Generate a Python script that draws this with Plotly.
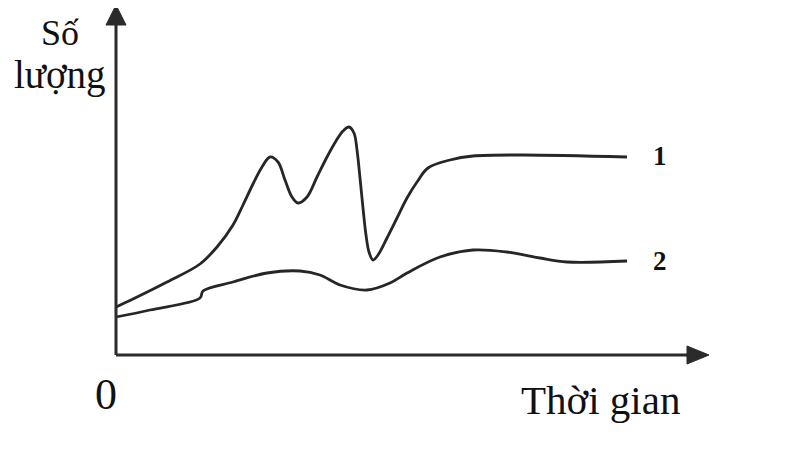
import plotly.graph_objects as go

# Curve 1 (time, quantity)
t1 = [0, 17, 51, 84, 101, 117, 127, 137, 146, 154, 162, 169, 176, 182, 191, 201, 211, 220, 227, 233,
      238, 241, 244, 247, 250, 253, 257, 262, 271, 281, 291, 301, 312, 334, 357, 407, 511]
n1 = [48, 56, 73, 91, 108, 130, 150, 171, 188, 198, 193, 175, 158, 152, 158, 178, 198, 214, 224, 228,
      222, 205, 177, 147, 120, 103, 95, 100, 117, 137, 157, 173, 187, 195, 199, 200, 198]
# Curve 2 (time, quantity)
t2 = [0, 34, 84, 87, 117, 151, 184, 204, 224, 251, 274, 291, 324, 357, 391, 424, 451, 511]
n2 = [38, 45, 57, 64, 73, 82, 84, 80, 70, 65, 72, 82, 98, 105, 103, 97, 93, 94]

labels = {"1": (544, 199), "2": (544, 94)}

fig = go.Figure()
for t, n in [(t1, n1), (t2, n2)]:
    fig.add_trace(go.Scatter(x=t, y=n, mode="lines",
                             line=dict(color="#262626", width=2.8, shape="spline", smoothing=1.0),
                             hoverinfo="skip", showlegend=False))

axc = "#2b2b2b"
# axes lines
fig.add_shape(type="line", x0=0, y0=0, x1=0, y1=335, line=dict(color=axc, width=3))
fig.add_shape(type="line", x0=0, y0=0, x1=575, y1=0, line=dict(color=axc, width=3))
# arrowheads
fig.add_shape(type="path", path="M -10,330 L 10,330 L 0,350 Z", fillcolor=axc, line=dict(color=axc, width=1))
fig.add_shape(type="path", path="M 571,-9 L 571,9 L 593,0 Z", fillcolor=axc, line=dict(color=axc, width=1))

serif = "Liberation Serif"
fig.add_annotation(x=-56, y=322, text="Số", showarrow=False, xanchor="center", yanchor="middle",
                   font=dict(family=serif, size=36, color="#111"))
fig.add_annotation(x=-56, y=280, text="lượng", showarrow=False, xanchor="center", yanchor="middle",
                   font=dict(family=serif, size=39, color="#111"))
fig.add_annotation(x=-10, y=-39, text="0", showarrow=False, xanchor="center", yanchor="middle",
                   font=dict(family=serif, size=44, color="#111"))
fig.add_annotation(x=484, y=-45, text="Thời gian", showarrow=False, xanchor="center", yanchor="middle",
                   font=dict(family=serif, size=41, color="#111"))
for k, (x, y) in labels.items():
    fig.add_annotation(x=x, y=y, text="<b>%s</b>" % k, showarrow=False, xanchor="center", yanchor="middle",
                       font=dict(family=serif, size=27, color="#111"))

# page body has an 8px margin, so ranges are offset to keep the axes where the reference has them
fig.update_layout(width=785, height=449, margin=dict(l=0, r=0, t=0, b=0),
                  paper_bgcolor="white", plot_bgcolor="white",
                  xaxis=dict(range=[-108, 677], visible=False, fixedrange=True),
                  yaxis=dict(range=[-102, 347], visible=False, fixedrange=True))
fig.write_html("out.html")
